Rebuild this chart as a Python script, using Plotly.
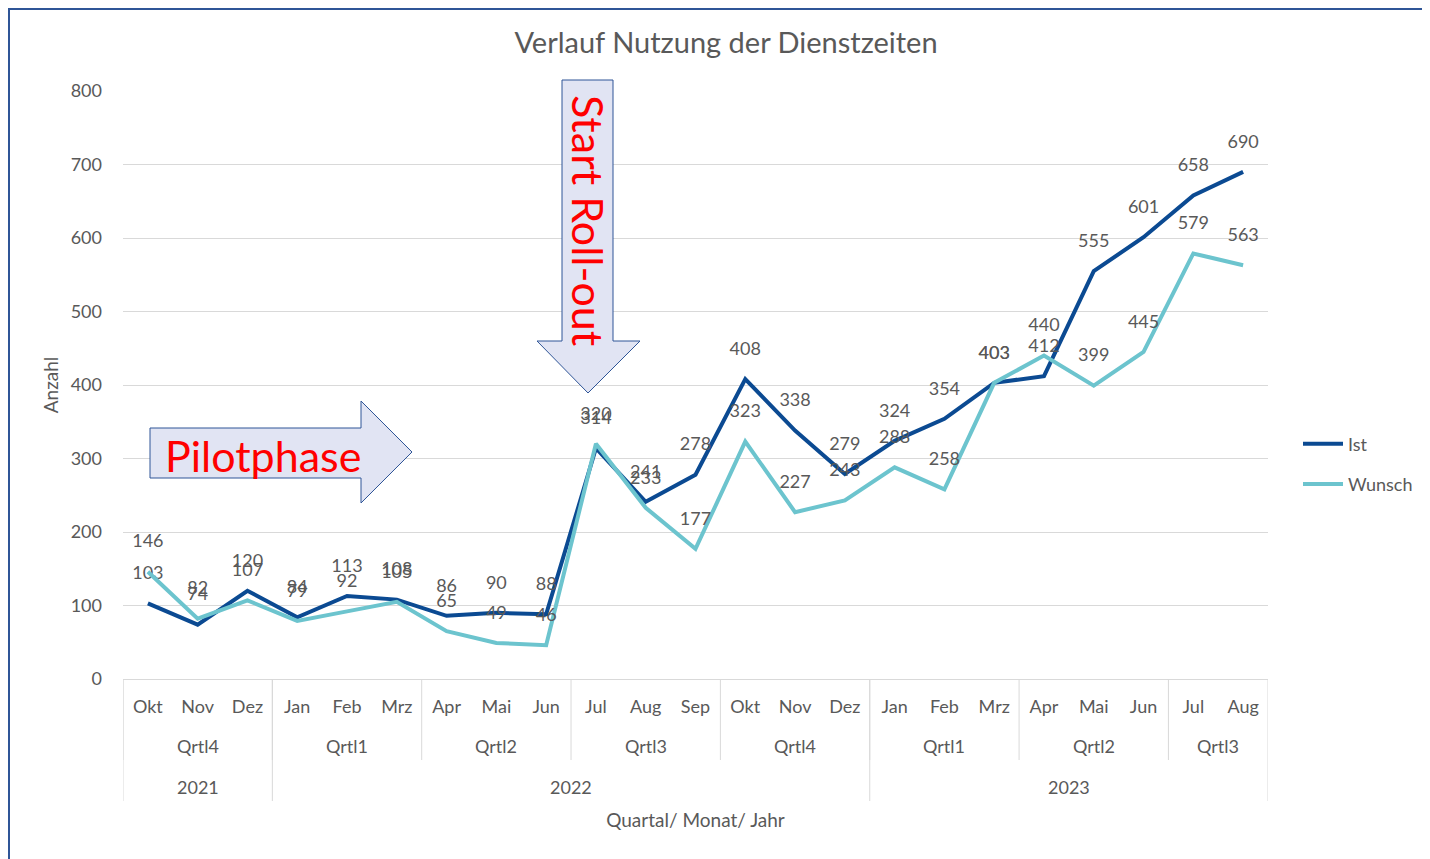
import plotly.graph_objects as go

months = ["Okt", "Nov", "Dez", "Jan", "Feb", "Mrz", "Apr", "Mai", "Jun", "Jul", "Aug", "Sep",
          "Okt", "Nov", "Dez", "Jan", "Feb", "Mrz", "Apr", "Mai", "Jun", "Jul", "Aug"]
quarters = ["Qrtl4", "Qrtl4", "Qrtl4", "Qrtl1", "Qrtl1", "Qrtl1", "Qrtl2", "Qrtl2", "Qrtl2",
            "Qrtl3", "Qrtl3", "Qrtl3", "Qrtl4", "Qrtl4", "Qrtl4", "Qrtl1", "Qrtl1", "Qrtl1",
            "Qrtl2", "Qrtl2", "Qrtl2", "Qrtl3", "Qrtl3"]
years = ["2021"] * 3 + ["2022"] * 12 + ["2023"] * 8
ist = [103, 74, 120, 84, 113, 108, 86, 90, 88, 314, 241, 278, 408, 338, 279, 324, 354, 403,
       412, 555, 601, 658, 690]
wunsch = [146, 82, 107, 79, 92, 105, 65, 49, 46, 320, 233, 177, 323, 227, 243, 288, 258, 403,
          440, 399, 445, 579, 563]
y_ticks = [0, 100, 200, 300, 400, 500, 600, 700, 800]

# page offset (browser body margin)
OX, OY = 8, 8
WP, HP = 1430, 859
W, H = WP - OX, HP - OY
L, R, T, B = 123, 1268, 91, 679
FONT = "Lato, Carlito, sans-serif"
GRAY = "#595959"
C_IST = "#0B4A92"
C_WUN = "#6CC4CE"


def px(xp):
    return (xp - L) / (R - L)


def py(yp):
    return (B - yp) / (B - T)


xs = list(range(len(months)))

fig = go.Figure()
fig.add_trace(go.Scatter(x=xs, y=ist, name="Ist", mode="lines+markers+text",
                         text=[str(v) for v in ist], legendgroup="a",
                         marker=dict(size=30, color="rgba(0,0,0,0)"),
                         textposition="top center", line=dict(color=C_IST, width=4),
                         textfont=dict(color=GRAY, size=18, family=FONT), cliponaxis=False))
fig.add_trace(go.Scatter(x=xs, y=wunsch, name="Wunsch", mode="lines+markers+text",
                         text=[str(v) for v in wunsch], legendgroup="b",
                         marker=dict(size=30, color="rgba(0,0,0,0)"),
                         textposition="top center", line=dict(color=C_WUN, width=4),
                         textfont=dict(color=GRAY, size=18, family=FONT), cliponaxis=False))

shapes = []
annotations = []


def groups(keys):
    out = []
    start = 0
    for i in range(1, len(keys) + 1):
        if i == len(keys) or keys[i] != keys[start]:
            out.append((start, i - 1, keys[start]))
            start = i
    return out


qkeys = [y + q for y, q in zip(years, quarters)]
for s, e, k in groups(qkeys):
    annotations.append(dict(x=(s + e) / 2, y=py(746), xref="x", yref="paper", text=quarters[s],
                            xanchor="center", yanchor="middle",
                            showarrow=False, font=dict(color=GRAY, size=18, family=FONT)))
    shapes.append(dict(type="line", xref="x", yref="paper", x0=s - 0.5, x1=s - 0.5,
                       y0=0, y1=py(760), line=dict(color="#D9D9D9", width=1)))
for s, e, k in groups(years):
    annotations.append(dict(x=(s + e) / 2, y=py(787), xref="x", yref="paper", text=k,
                            xanchor="center", yanchor="middle",
                            showarrow=False, font=dict(color=GRAY, size=18, family=FONT)))
    shapes.append(dict(type="line", xref="x", yref="paper", x0=s - 0.5, x1=s - 0.5,
                       y0=0, y1=py(801), line=dict(color="#D9D9D9", width=1)))
shapes.append(dict(type="line", xref="x", yref="paper", x0=len(months) - 0.5,
                   x1=len(months) - 0.5, y0=0, y1=py(801), line=dict(color="#D9D9D9", width=1)))

# outer frame (kept inside the figure area)
shapes.append(dict(type="rect", xref="paper", yref="paper", x0=px(9), x1=px(1428),
                   y0=py(875), y1=py(9), line=dict(color="#2F5597", width=2),
                   fillcolor="rgba(0,0,0,0)", layer="below"))

# Pilotphase arrow
ax = [150, 361, 361, 412, 361, 361, 150]
ay = [428, 428, 401, 452, 503, 478, 478]
path = "M " + " L ".join(f"{px(a)},{py(b)}" for a, b in zip(ax, ay)) + " Z"
shapes.append(dict(type="path", xref="paper", yref="paper", path=path,
                   fillcolor="#E1E4F3", line=dict(color="#2F5597", width=1)))
annotations.append(dict(x=px(263), y=py(455), xref="paper", yref="paper", text="Pilotphase",
                        xanchor="center", yanchor="middle",
                        showarrow=False, font=dict(color="#FF0000", size=43, family=FONT)))

# Start Roll-out arrow
bx = [562, 613, 613, 640, 588, 537, 562]
by = [80, 80, 341, 341, 393, 341, 341]
path2 = "M " + " L ".join(f"{px(a)},{py(b)}" for a, b in zip(bx, by)) + " Z"
shapes.append(dict(type="path", xref="paper", yref="paper", path=path2,
                   fillcolor="#E1E4F3", line=dict(color="#2F5597", width=1)))
annotations.append(dict(x=px(588), y=py(220), xref="paper", yref="paper",
                        text="Start Roll-out", textangle=90,
                        xanchor="center", yanchor="middle",
                        showarrow=False, font=dict(color="#FF0000", size=43, family=FONT)))

fig.update_layout(
    width=W, height=H,
    margin=dict(l=L - OX, r=WP - R, t=T - OY, b=HP - B, autoexpand=False),
    paper_bgcolor="white", plot_bgcolor="white",
    title=dict(text="Verlauf Nutzung der Dienstzeiten", x=(726 - OX) / W, xanchor="center",
               y=1 - (43 - OY) / H, yanchor="middle",
               font=dict(color=GRAY, size=29, family=FONT)),
    font=dict(family=FONT, color=GRAY, size=18),
    xaxis=dict(tickmode="array", tickvals=xs, ticktext=months, range=[-0.5, len(months) - 0.5],
               showgrid=False, zeroline=False, showline=True, linecolor="#D9D9D9",
               ticks="", ticklabelstandoff=11, tickfont=dict(size=18, color=GRAY),
               title=dict(text="Quartal/ Monat/ Jahr", standoff=98,
                          font=dict(size=19, color=GRAY)), automargin=False),
    yaxis=dict(range=[0, 800], tickvals=y_ticks, showgrid=True, gridcolor="#D9D9D9",
               zeroline=False, showline=False, ticks="", ticklabelstandoff=20,
               tickfont=dict(size=18, color=GRAY),
               title=dict(text="Anzahl", standoff=7, font=dict(size=19, color=GRAY)),
               automargin=False),
    legend=dict(x=px(1298), y=py(464), xanchor="left", yanchor="middle",
                font=dict(size=18, color=GRAY), tracegroupgap=14, itemwidth=40,
                bgcolor="rgba(0,0,0,0)"),
    shapes=shapes, annotations=annotations, showlegend=True,
)

fig.write_html("out.html")
